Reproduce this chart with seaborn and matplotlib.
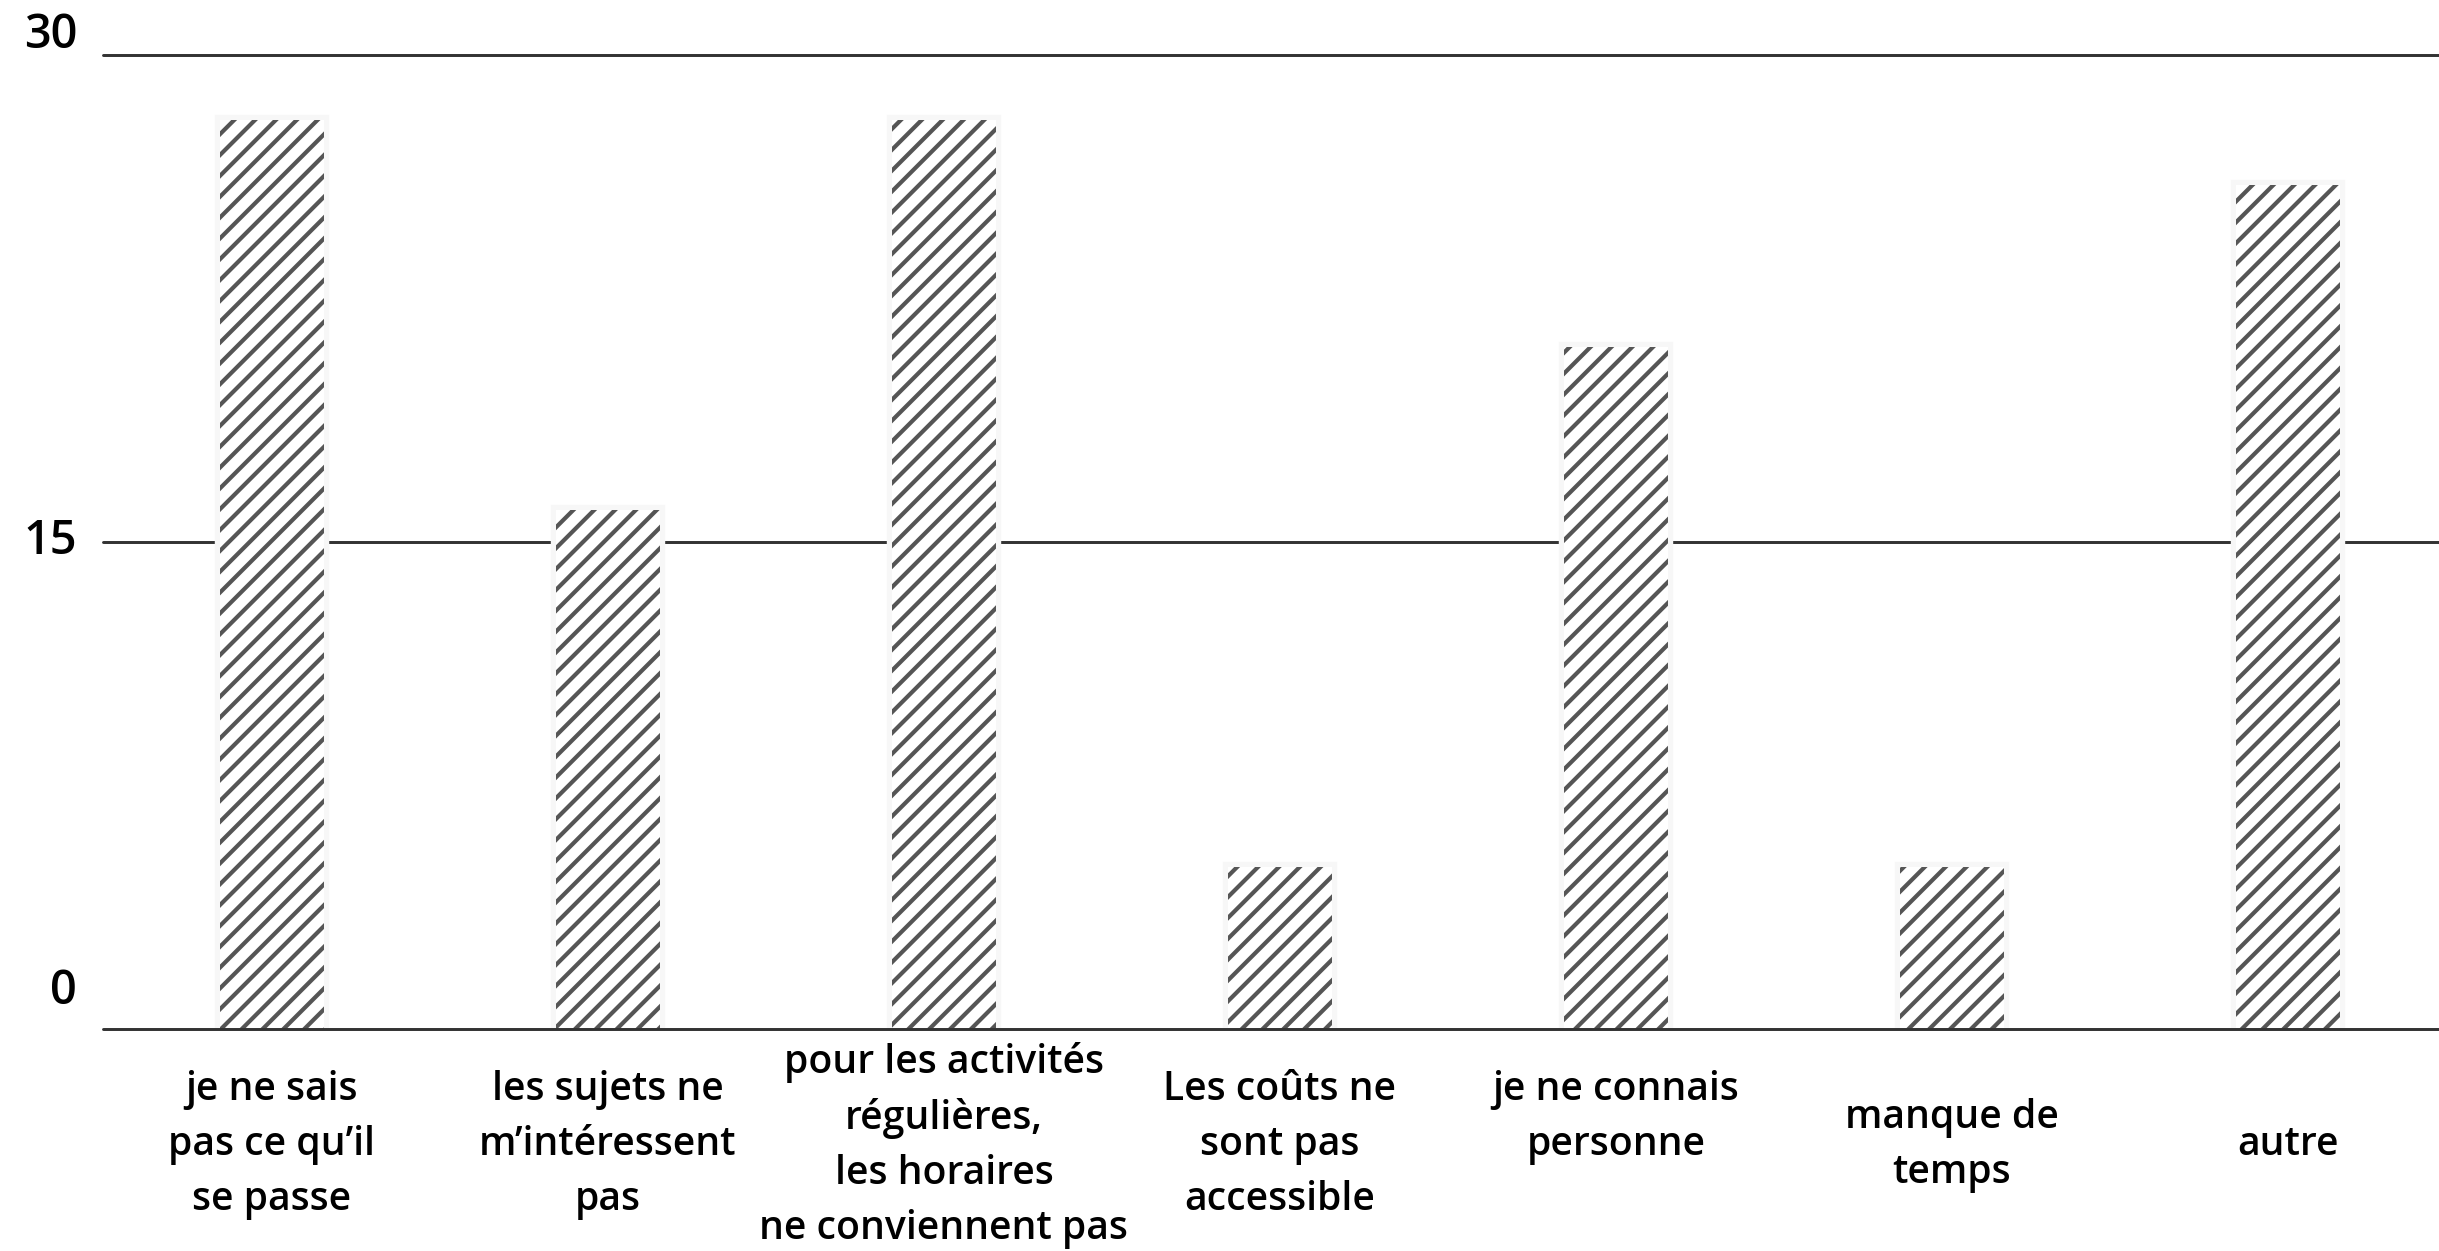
import matplotlib
matplotlib.use("Agg")
import matplotlib.pyplot as plt
import matplotlib.transforms as mtransforms
import seaborn as sns
import pandas as pd

categories = [
    "je ne sais\npas ce qu’il\nse passe",
    "les sujets ne\nm’intéressent\npas",
    "pour les activités\nrégulières,\nles horaires\nne conviennent pas",
    "Les coûts ne\nsont pas\naccessible",
    "je ne connais\npersonne\n",
    "manque de\ntemps",
    "autre",
]
values = [28, 16, 28, 5, 21, 5, 26]
yticks = [0, 15, 30]
ytick_labels = ["0", "15", "30"]

sns.set_theme(style="white")
plt.rcParams["font.family"] = ["Open Sans", "DejaVu Sans"]
plt.rcParams["hatch.linewidth"] = 2.4

DPI = 125
fig = plt.figure(figsize=(2439 / DPI, 1251 / DPI), dpi=DPI)
ax = fig.add_axes([103 / 2439, 1 - 1029 / 1251, 1 - 103 / 2439, (1029 - 55) / 1251])

df = pd.DataFrame({"cat": categories, "val": values})
# faint halo behind the bars, as in the reference
sns.barplot(data=df, x="cat", y="val", ax=ax, color="white", width=0.31,
            edgecolor="#f7f7f7", linewidth=6, zorder=2)
sns.barplot(data=df, x="cat", y="val", ax=ax, color="white", width=0.31,
            edgecolor="#555555", linewidth=0, zorder=3)
n = len(categories)
for p in ax.patches[n:]:
    p.set_hatch("//")

ax.set_xlim(-0.503, 6.45)
ax.set_ylim(0, 30)
for v in yticks:
    ax.axhline(v, color="#333333", linewidth=1.7, zorder=4 if v == 0 else 1, clip_on=False)

# y labels drawn as text (with the vertical offsets seen in the reference)
ax.set_yticks([])
offsets = {"0": 21.5, "15": 0, "30": 11.5}
ytrans = mtransforms.blended_transform_factory(ax.transAxes, ax.transData)
for v, lab in zip(yticks, ytick_labels):
    tr = ytrans + mtransforms.ScaledTranslation(-15 / 72, offsets[lab] / 72, fig.dpi_scale_trans)
    ax.text(0, v, lab, transform=tr, ha="right", va="center", fontsize=27,
            fontweight="semibold", color="black", clip_on=False)

ax.set_xticks(range(n))
ax.set_xticklabels(categories, fontsize=22.5, fontweight="semibold", color="black",
                   va="center", ha="center", linespacing=1.5)
ax.tick_params(axis="x", length=0, pad=67)

ax.set_xlabel("")
ax.set_ylabel("")
for s in ax.spines.values():
    s.set_visible(False)
ax.grid(False)

fig.savefig("out.png", dpi=DPI, facecolor="white")
